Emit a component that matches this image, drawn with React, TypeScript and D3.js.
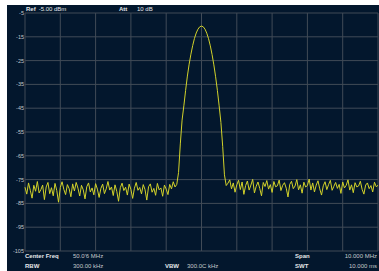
import React from 'react';
import * as d3 from 'd3';

// Spectrum trace: 45.00 .. 55.00 MHz, 0.05 MHz per point
const traceStartMHz = 45;
const traceStepMHz = 0.05;
const traceDbm = [
  // noise floor, left side
  -78.2, -81.1, -76.4, -79.5, -82.8, -77.4, -79.9, -75.8, -80.6, -79.2,
  -77.3, -83.4, -78.1, -76.2, -80.9, -78.4, -81.8, -76.6, -79.6, -84.5,
  -78.3, -75.9, -79.1, -81.3, -77.1, -78.8, -82.2, -76.8, -79.8, -76.2,
  -78.6, -81.9, -77.4, -79.3, -83.1, -78.0, -76.4, -80.2, -78.5, -81.4,
  -76.7, -79.0, -82.5, -78.7, -76.9, -80.9, -78.9, -75.8, -79.4, -78.1,
  -81.7, -77.2, -79.9, -84.1, -78.4, -76.5, -79.6, -78.2, -81.5, -76.9,
  -79.1, -82.9, -78.6, -76.2, -79.5, -78.3, -81.0, -77.1, -79.2, -83.6,
  -78.0, -76.8, -80.3, -78.7, -81.6, -76.6, -79.3, -78.5, -82.0, -77.3,
  -79.0, -81.3, -77.0, -78.9, -75.9, -78.1,
  // carrier
  -77.0, -72.0, -60.0, -50.0, -44.0, -37.5, -31.5, -26.5, -22.3, -18.7,
  -15.7, -13.4, -11.8, -10.8, -10.5, -10.8, -11.8, -13.5, -15.8, -18.8,
  -22.5, -26.8, -31.8, -37.5, -44.0, -51.0, -61.0, -73.0, -77.5,
  // noise floor, right side
  -76.5, -75.1, -78.9, -76.4, -80.3, -77.2, -75.3, -79.2, -76.0, -81.2,
  -77.5, -75.6, -79.4, -77.3, -74.9, -80.6, -77.8, -76.0, -78.7, -81.8,
  -76.2, -77.9, -75.4, -79.0, -77.1, -80.4, -75.8, -78.0, -77.6, -75.2,
  -79.6, -77.4, -76.3, -78.6, -82.3, -77.0, -75.7, -78.8, -77.7, -75.0,
  -79.3, -77.2, -80.7, -76.1, -78.1, -77.5, -74.8, -79.4, -76.4, -80.2,
  -77.3, -75.5, -78.9, -81.5, -77.6, -75.9, -79.2, -77.1, -75.3, -79.5,
  -77.8, -76.2, -78.7, -77.0, -80.8, -76.0, -78.5, -77.4, -75.1, -79.4,
  -77.2, -80.5, -76.3, -78.1, -77.7, -75.7, -79.1, -81.1, -77.3, -76.4,
  -78.8, -77.5, -80.2, -76.1, -78.0, -77.4,
];

const yTicks = [-5, -15, -25, -35, -45, -55, -65, -75, -85, -95, -105];
const xTicks = [45, 46, 47, 48, 49, 50, 51, 52, 53, 54, 55];

const W = 379;
const H = 271;
const plot = { left: 25, right: 378, top: 13, bottom: 251 };

const App: React.FC = () => {
  const x = d3.scaleLinear().domain([45, 55]).range([plot.left, plot.right]);
  const y = d3.scaleLinear().domain([-105, -5]).range([plot.bottom, plot.top]);

  const line = d3.line<number>()
    .x((_, i) => x(traceStartMHz + i * traceStepMHz))
    .y(d => y(d));

  const font = '"Liberation Sans", Arial, sans-serif';
  const grid = '#414b57';
  const label = '#c4c8cc';

  return (
    <svg width={W} height={H} style={{ position: 'absolute', left: 0, top: 0 }} fontFamily={font}>
      <rect x={0} y={0} width={W} height={H} fill="#ffffff" />
      <rect x={7} y={5} width={W - 7} height={H - 5} fill="#03172d" />

      {/* grid */}
      {xTicks.map(t => (
        <line key={'x' + t} x1={x(t)} x2={x(t)} y1={plot.top} y2={plot.bottom} stroke={grid} strokeWidth={1} />
      ))}
      {yTicks.map(t => (
        <line key={'y' + t} x1={plot.left} x2={plot.right} y1={y(t)} y2={y(t)} stroke={grid} strokeWidth={1} />
      ))}

      {/* y labels */}
      {yTicks.map(t => (
        <text key={'l' + t} x={plot.left - 1} y={y(t)} dy="0.35em" textAnchor="end" fontSize={5.5} fill={label}>
          {t}
        </text>
      ))}

      {/* trace */}
      <path d={line(traceDbm) ?? ''} fill="none" stroke="#d2d22a" strokeWidth={1} strokeLinejoin="round" />

      {/* header */}
      <text x={26} y={11} fontSize={6} fill="#e6e8ea">
        <tspan fontWeight="bold">Ref</tspan>
        <tspan dx={3}>-5.00 dBm</tspan>
      </text>
      <text x={119} y={11} fontSize={6} fill="#e6e8ea" fontWeight="bold">Att</text>
      <text x={137} y={11} fontSize={6} fill="#e6e8ea">10 dB</text>

      {/* footer */}
      <text x={25} y={258} fontSize={6} fill="#e6e8ea" fontWeight="bold">Center Freq</text>
      <text x={73} y={258} fontSize={6} fill="#c4c8cc">50.0'6 MHz</text>
      <text x={25} y={268} fontSize={6} fill="#e6e8ea" fontWeight="bold">RBW</text>
      <text x={73} y={268} fontSize={6} fill="#c4c8cc">300.00 kHz</text>
      <text x={165} y={268} fontSize={6} fill="#e6e8ea" fontWeight="bold">VBW</text>
      <text x={187} y={268} fontSize={6} fill="#c4c8cc">300.0C kHz</text>
      <text x={295} y={258} fontSize={6} fill="#e6e8ea" fontWeight="bold">Span</text>
      <text x={377} y={258} fontSize={6} fill="#c4c8cc" textAnchor="end">10.000 MHz</text>
      <text x={295} y={268} fontSize={6} fill="#e6e8ea" fontWeight="bold">SWT</text>
      <text x={377} y={268} fontSize={6} fill="#c4c8cc" textAnchor="end">10.000 ms</text>
    </svg>
  );
};

export default App;
